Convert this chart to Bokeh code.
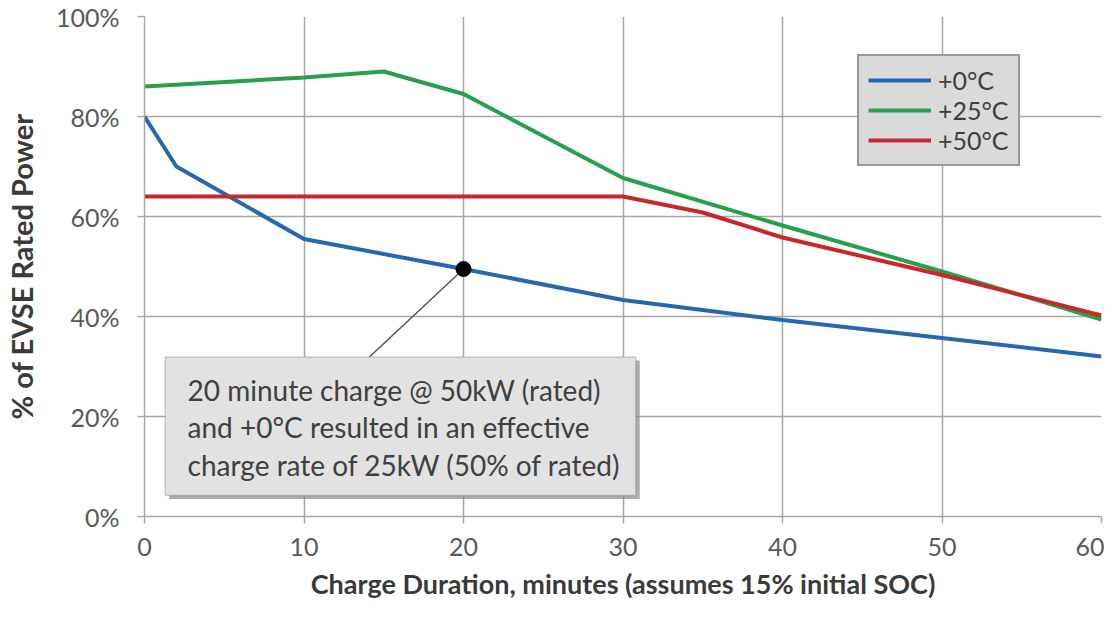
from bokeh.plotting import figure
from bokeh.models import (Range1d, FixedTicker, PrintfTickFormatter, Legend, LegendItem,
                          BoxAnnotation, Label)
from bokeh.embed import file_html
from bokeh.resources import INLINE

# minutes vs % of EVSE rated power
blue_x = [0, 2, 10, 20, 30, 40, 50, 60]
blue_y = [80, 70, 55.5, 49.5, 43.3, 39.3, 35.7, 32]
green_x = [0, 10, 15, 20, 30, 40, 50, 60]
green_y = [86, 87.8, 89, 84.5, 67.7, 58.2, 49, 39.4]
red_x = [0, 30, 35, 40, 50, 60]
red_y = [64, 64, 60.8, 55.8, 48.3, 40.2]
series_names = ["+0°C", "+25°C", "+50°C"]
x_ticks = [0, 10, 20, 30, 40, 50, 60]
y_ticks = [0, 20, 40, 60, 80, 100]

marker_x = [20]
marker_y = [49.5]
note_lines = ["20 minute  charge @ 50kW (rated)",
              "and +0°C resulted  in an effective",
              "charge rate  of 25kW (50% of rated)"]

FONT = "Lato"
GRID = "#a6a6a6"

p = figure(width=1104, height=603, output_backend="svg", toolbar_location=None,
           x_range=Range1d(0, 60), y_range=Range1d(0, 100),
           min_border_left=141, min_border_top=16, min_border_right=3, min_border_bottom=87)
p.outline_line_color = None
p.background_fill_color = "white"

p.xaxis.ticker = FixedTicker(ticks=x_ticks)
p.yaxis.ticker = FixedTicker(ticks=y_ticks)
p.yaxis.formatter = PrintfTickFormatter(format="%d%%")
for ax in [p.xaxis, p.yaxis]:
    ax.axis_line_color = GRID
    ax.axis_line_width = 1.5
    ax.major_tick_line_color = GRID
    ax.major_tick_line_width = 1.5
    ax.major_tick_in = 0
    ax.major_tick_out = 7
    ax.minor_tick_line_color = None
    ax.major_label_text_font = FONT
    ax.major_label_text_font_size = "25px"
    ax.major_label_text_color = "#595959"
    ax.axis_label_text_font = FONT
    ax.axis_label_text_font_style = "bold"
    ax.axis_label_text_color = "#3a3a3a"
p.xaxis.axis_label = "Charge Duration, minutes (assumes 15% initial SOC)"
p.yaxis.axis_label = "% of EVSE Rated Power"
p.xaxis.axis_label_text_font_size = "27px"
p.yaxis.axis_label_text_font_size = "29px"
p.xaxis.major_label_standoff = 14
p.yaxis.major_label_standoff = 18
p.xaxis.axis_label_standoff = 8
p.yaxis.axis_label_standoff = 14

p.grid.grid_line_color = GRID
p.grid.grid_line_width = 1.5

r0 = p.line(blue_x, blue_y, line_color="#2468ad", line_width=4)
r1 = p.line(green_x, green_y, line_color="#26a04a", line_width=4)
r2 = p.line(red_x, red_y, line_color="#c8282c", line_width=4)

# callout
p.segment(x0=marker_x, y0=marker_y, x1=[14.1], y1=[31.9], line_color="#555555", line_width=1.5)
p.scatter(marker_x, marker_y, size=15, color="black")

p.add_layout(BoxAnnotation(left=1.55, right=31.05, bottom=3.5, top=31.2,
                           fill_color="#8a8a8a", fill_alpha=0.7, line_color=None))
p.add_layout(BoxAnnotation(left=1.3, right=30.8, bottom=4.2, top=31.9,
                           fill_color="#e2e2e2", fill_alpha=1, line_color="#6f6f6f", line_width=1.5))
for i, t in enumerate(note_lines):
    p.add_layout(Label(x=2.7, y=25.3 - i * 7.45, text=t, text_baseline="middle",
                       text_font=FONT, text_font_size="28px", text_color="#404040"))

legend = Legend(items=[LegendItem(label=series_names[0], renderers=[r0]),
                       LegendItem(label=series_names[1], renderers=[r1]),
                       LegendItem(label=series_names[2], renderers=[r2])],
                location=(713, 350))
legend.background_fill_color = "#dadada"
legend.background_fill_alpha = 1
legend.border_line_color = "#5a5a5a"
legend.border_line_width = 2.5
legend.label_text_font = FONT
legend.label_text_font_size = "25px"
legend.label_text_color = "#404040"
legend.glyph_width = 63
legend.glyph_height = 24
legend.label_standoff = 7
legend.spacing = 0
legend.padding = 9
legend.margin = 0
p.add_layout(legend, "center")

open("out.html", "w").write(file_html(p, INLINE))
